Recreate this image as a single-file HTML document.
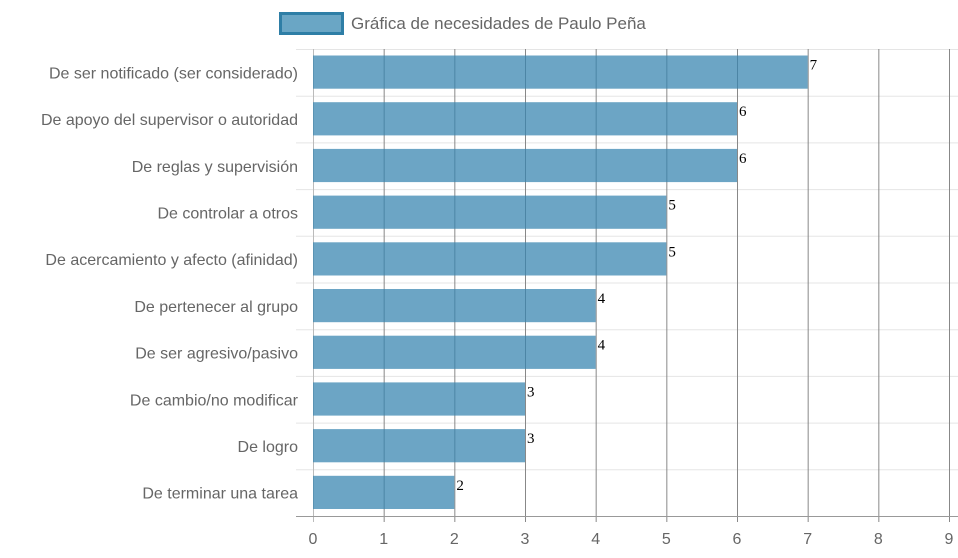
<!DOCTYPE html>
<html><head><meta charset="utf-8"><style>
html,body{margin:0;padding:0;background:#fff;}
svg{display:block;font-family:"Liberation Sans",sans-serif;}
</style></head><body>
<svg id="chart" width="958" height="558">
<g>
<rect x="280.5" y="13.5" width="62" height="20" fill="#6aa6c5" stroke="#2e7ea6" stroke-width="3"/>
<text x="351" y="29" font-size="17" fill="#666">Gráfica de necesidades de Paulo Peña</text>
</g>
<g id="grid"></g>
<g id="bars"></g>
<g id="labels"></g>
</svg>
<script>
const categories=["De ser notificado (ser considerado)","De apoyo del supervisor o autoridad","De reglas y supervisión","De controlar a otros","De acercamiento y afecto (afinidad)","De pertenecer al grupo","De ser agresivo/pasivo","De cambio/no modificar","De logro","De terminar una tarea"];
const values=[7,6,6,5,5,4,4,3,3,2];
const ticks=[0,1,2,3,4,5,6,7,8,9];
const NS="http://www.w3.org/2000/svg";
const X0=313,X1=949,Y0=49,Y1=516,XMAX=9;
const x=v=>X0+(v/XMAX)*(X1-X0);
const band=(Y1-Y0)/categories.length;
const y=i=>Y0+i*band;
function mk(tag,attrs,parent){const e=document.createElementNS(NS,tag);for(const k in attrs)e.setAttribute(k,attrs[k]);parent.appendChild(e);return e;}
const grid=document.getElementById('grid'),bars=document.getElementById('bars'),labels=document.getElementById('labels');
for(let i=0;i<=categories.length;i++){
  const l=mk('line',{x1:296,x2:958,y1:y(i)+0.5,y2:y(i)+0.5,stroke:'#e5e5e5','stroke-width':1},grid);
  
  
}
ticks.forEach(t=>{
  const l=mk('line',{x1:x(t)+0.5,x2:x(t)+0.5,y1:Y0,y2:Y1+6,stroke:t===0?'#bbb':'#888','stroke-width':1},grid);
  
  
  const tx=mk('text',{x:x(t),y:544,'font-size':16,fill:'#666','text-anchor':'middle'},labels);
  tx.textContent=t;
  
  
});
mk('line',{x1:296,x2:958,y1:Y1+0.5,y2:Y1+0.5,stroke:'#999'},grid);
categories.forEach((c,i)=>{
  const by=y(i)+6.5,bh=band-13.5;
  const r=mk('rect',{x:X0,y:by,width:x(values[i])-X0,height:bh,fill:'rgba(54,131,175,0.73)'},bars);
  
  
  const cl=mk('text',{x:298,y:y(i)+band/2+6,'font-size':16,fill:'#666','text-anchor':'end'},labels);
  cl.textContent=c;
  
  
  const vl=mk('text',{x:x(values[i])+2,y:by+14,'font-size':15,fill:'#000','font-family':'Liberation Serif, serif'},labels);
  vl.textContent=values[i];
  
  
});
</script>
</body></html>
